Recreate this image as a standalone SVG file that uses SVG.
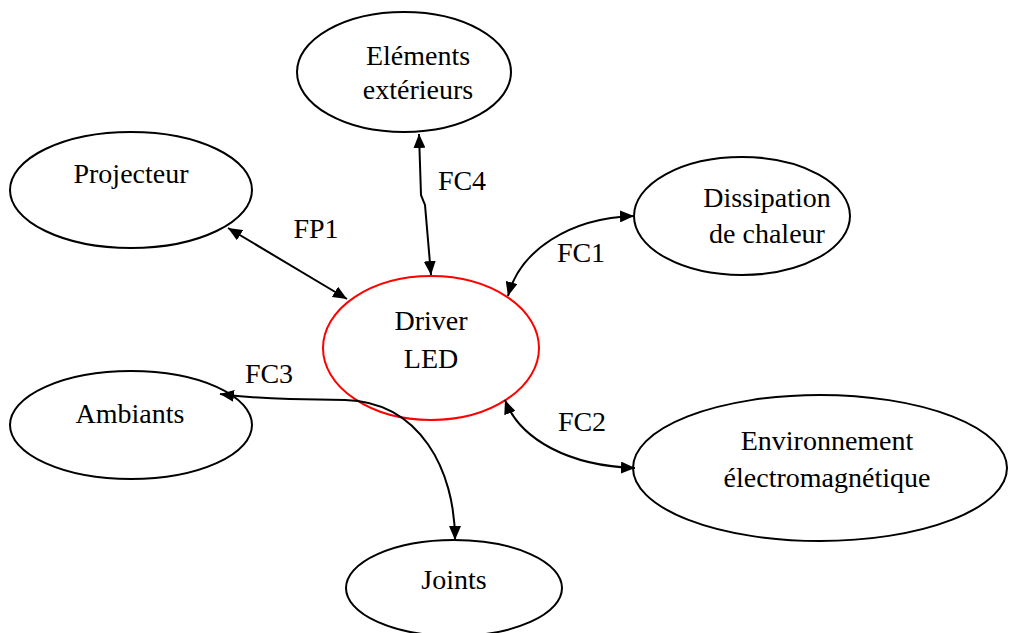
<svg xmlns="http://www.w3.org/2000/svg" width="1009" height="633" viewBox="0 0 1009 633">
  <defs>
    <marker id="ah" viewBox="0 0 14 12" refX="14" refY="6" markerWidth="14" markerHeight="12" markerUnits="userSpaceOnUse" orient="auto-start-reverse">
      <path d="M0,0 L14,6 L0,12 z" fill="#000"/>
    </marker>
    <style>
      .node { fill: #fff; stroke: #000; stroke-width: 2; }
      .main { fill: #fff; stroke: #ff0000; stroke-width: 2; }
      .lbl { font-size: 28px; fill: #000; text-anchor: middle; }
      .edge { fill: none; stroke: #000; stroke-width: 2; marker-start: url(#ah); marker-end: url(#ah); }
      .tag { font-size: 28px; fill: #000; text-anchor: middle; }
    </style>
  </defs>
  <rect width="1009" height="633" fill="#fff"/>

  <g font-family="'Liberation Serif', 'Times New Roman', serif">
  <!-- nodes -->
  <g id="elements-exterieurs">
    <ellipse class="node" cx="404" cy="72" rx="107" ry="60"/>
    <text class="lbl" x="418" y="65">Eléments</text>
    <text class="lbl" x="418" y="99">extérieurs</text>
  </g>
  <g id="projecteur">
    <ellipse class="node" cx="131" cy="190" rx="121" ry="58"/>
    <text class="lbl" x="131" y="183">Projecteur</text>
  </g>
  <g id="dissipation">
    <ellipse class="node" cx="742" cy="216" rx="108" ry="59"/>
    <text class="lbl" x="767" y="207">Dissipation</text>
    <text class="lbl" x="767" y="243">de chaleur</text>
  </g>
  <g id="driver-led">
    <ellipse class="main" cx="431" cy="348" rx="108" ry="72"/>
    <text class="lbl" x="431" y="330">Driver</text>
    <text class="lbl" x="431" y="368">LED</text>
  </g>
  <g id="ambiants">
    <ellipse class="node" cx="131" cy="425" rx="121" ry="54"/>
    <text class="lbl" x="130" y="423">Ambiants</text>
  </g>
  <g id="environnement">
    <ellipse class="node" cx="820" cy="468" rx="187" ry="73"/>
    <text class="lbl" x="827" y="450">Environnement</text>
    <text class="lbl" x="827" y="487">électromagnétique</text>
  </g>
  <g id="joints">
    <ellipse class="node" cx="454" cy="588" rx="108" ry="48"/>
    <text class="lbl" x="454" y="589">Joints</text>
  </g>

  <!-- connectors -->
  <g id="connectors">
    <path class="edge" d="M228,228 L347,299"/>
    <path class="edge" d="M419,134 L421,195 L425,205 L431,275"/>
    <path class="edge" d="M508,296 C520,250 570,218 634,216"/>
    <path class="edge" d="M505,400 C520,440 570,466 635,468"/>
    <path class="edge" d="M220,394 Q250,398 290,399 L345,400 C420,402 455,470 455,540"/>
    <text class="tag" x="316" y="238">FP1</text>
    <text class="tag" x="462" y="190">FC4</text>
    <text class="tag" x="581" y="262">FC1</text>
    <text class="tag" x="582" y="431">FC2</text>
    <text class="tag" x="269" y="383">FC3</text>
  </g>
  </g>
</svg>
